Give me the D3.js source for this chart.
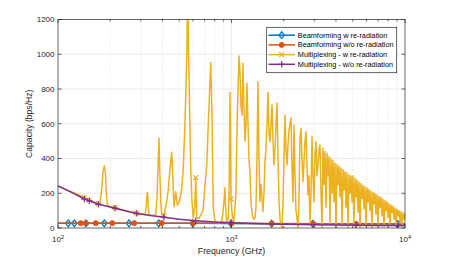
<!DOCTYPE html>
<html><head><meta charset="utf-8">
<script src="https://cdn.jsdelivr.net/npm/d3@7"></script>
<style>
html,body{margin:0;padding:0;background:#fff;}
svg{display:block;font-family:"Liberation Sans",Arial,Helvetica,sans-serif;}
</style></head>
<body>
<svg id="chart" width="449" height="257"></svg>
<script>
// ---------------- data ----------------
const seriesNames = ["Beamforming w re-radiation","Beamforming w/o re-radiation","Multiplexing - w re-radiation","Multiplexing - w/o re-radiation"];
const seriesColors = ["#0072BD","#D95319","#EDB120","#7E2F8E"];
const freqTicks = [100, 1000, 10000];
const freqTickExp = ["2","3","4"];
const capTicks = [0,200,400,600,800,1000,1200];

// Beamforming w re-radiation (GHz, bps/Hz)
const beamWithFreq = [100,114.6,124.2,145,184.9,256.7,381,597.5,993,1705,2938,9078,10000];
const beamWithCap  = [27,27,27,27,27,27,27,27,26,25,24,23,23];
// Beamforming w/o re-radiation
const beamWithoutFreq = [100,135.2,145,165,205.6,275,396,602,1003,1705,2962,5220,10000];
const beamWithoutCap  = [28,28,28,28,28,28,28,28,27,26,25,24,24];
// Multiplexing w/o re-radiation
const multiWithoutFreq = [100,120,141.8,151.5,170.8,200,213,250,284,350,408,500,622,800,993,1500,2000,3000,5220,7000,9114,10000];
const multiWithoutCap  = [242,205,167,156,137,121,114,96,84,70,62,51,42,34,30,25,22,19,16,15,14,14];
// Multiplexing w re-radiation  [GHz, bps/Hz]
const multiWith = [
 [100,242],[115,214],[130,193],[141.8,175],[151.5,160],[165,146],[170.8,140],[174.6,142],[179.3,240],[182,330],[185,357],[187.5,320],[189.1,240],[192,140],[196,124],[213,117],[240,103],[260,94],[284,85],[305,80],[318,77],[322,120],[325,185],[327,203],[329,190],[332,110],[335,74],[350,72],[366,78],[372,170],[377,350],[382,516],[386,330],[391,150],[396,75],[408,72],
 [423,151],[432,220],[442,340],[452,436],[458,320],[466,122],[477,209],[487,132],[500,151],[516,220],[527,340],[539,600],[547,820],[554,1060],[559,1450],[566,990],[574,680],[582,340],[592,151],[602,57],[614,120],[622,290],[630,60],[650,55],[685,100],[720,363],[745,748],[759,953],[772,650],[785,115],[803,40],[840,30],[880,35],[905,150],[917,232],[925,120],[938,28],[960,60],[971,300],[980,781],[987,500],[993,167],[1005,100],[1016,60],[1034,40],[1060,200],[1080,650],[1105,990],
 [1119,900],[1134,700],[1150,650],[1165,948],[1180,700],[1196,500],[1212,600],[1228,833],[1245,600],[1261,400],[1278,324],[1295,150],[1312,90],[1330,57],[1348,50],[1366,60],[1384,120],[1402,400],[1421,842],[1440,400],[1459,151],[1479,250],[1498,180],[1518,94],[1539,200],[1559,380],[1580,450],[1602,600],[1623,781],[1645,550],[1667,497],[1689,600],[1712,708],[1735,500],[1758,363],[1781,450],[1805,600],[1829,719],[1854,400],[1879,150],[1904,50],[1929,20],[1955,0],[1981,150],[2007,400],[2034,650],[2061,450],[2089,363],[2117,480],[2145,560],[2174,600],[2203,633],[2232,350],[2262,151],[2292,593],[2323,300],[2354,100],[2385,57],[2417,0],[2449,150],[2482,520],[2515,574],[2549,400],[2583,267],[2617,380],[2652,500],[2688,554],[2724,350],[2760,190],[2797,300],[2834,30],[2872,200],[2911,526],[2950,300],[2989,151],[3029,420],[3069,497],[3110,300],[3152,363],[3194,450],[3236,478],[3280,200],[3324,0],
 [3368,460],[3413,250],[3459,440],[3505,120],[3552,430],[3599,300],[3647,410],[3696,20],[3745,400],[3795,200],[3846,390],[3897,150],[3950,372],[4002,0],[4056,365],[4110,250],[4165,355],[4220,180],[4277,345],[4334,10],[4392,335],[4451,220],[4510,324],[4570,120],[4631,318],[4693,0],[4756,305],[4819,200],[4884,300],[4949,150],[5015,300],[5082,20],[5150,286],[5219,180],[5289,275],[5359,90],[5431,265],[5504,0],[5577,255],[5651,170],[5727,245],[5803,110],[5881,238],[5959,10],[6039,230],[6120,150],[6201,222],[6284,100],[6368,212],[6453,0],[6539,205],[6627,140],[6715,198],[6805,80],[6896,190],[6988,15],[7081,182],[7176,120],[7272,175],[7369,70],[7468,165],[7568,10],[7669,158],[7771,100],[7875,150],[7980,60],[8087,140],[8195,15],[8304,133],[8415,90],[8527,125],[8641,50],[8757,115],[8874,10],[8992,108],[9113,70],[9234,100],[9358,30],[9483,94],[9609,10],[9738,88],[9868,50],[10000,82]
];
// marker positions (GHz)
const beamWithMarks = [114.6,124.2,145,184.9,256.7,381,597.5,993,1705,2938,9078];
const beamWithoutMarks = [135.2,145,165,205.6,275,396,602,1003,1705,2962,5220];
const multiWithMarks = [141.8,151.5,170.8,213,284,408,622,993];
const multiWithoutMarks = [141.8,151.5,170.8,213,284,408,622,993,5220,9114];

// ---------------- chart ----------------
const svg = d3.select("#chart");
const L = 58, R = 405, T = 19.5, B = 228;
const x = d3.scaleLog().domain([100, 10000]).range([L, R]);
const y = d3.scaleLinear().domain([0, 1200]).range([B, T]);
const axisCol = "#262626";

// grid
const grid = svg.append("g");
const minorVals = [];
[100, 1000].forEach(dec => { for (let k = 2; k <= 9; k++) minorVals.push(dec * k); });
grid.selectAll("line.mx").data(minorVals).join("line")
  .attr("x1", d => x(d)).attr("x2", d => x(d)).attr("y1", T).attr("y2", B)
  .attr("stroke", "#c8c8c8").attr("stroke-width", 0.6).attr("stroke-dasharray", "1,2");
grid.selectAll("line.Mx").data(freqTicks.slice(1, -1)).join("line")
  .attr("x1", d => x(d)).attr("x2", d => x(d)).attr("y1", T).attr("y2", B)
  .attr("stroke", "#dedede").attr("stroke-width", 0.6);
grid.selectAll("line.gy").data(capTicks.slice(1, -1)).join("line")
  .attr("x1", L).attr("x2", R).attr("y1", d => y(d)).attr("y2", d => y(d))
  .attr("stroke", "#dedede").attr("stroke-width", 0.6);

// clip
svg.append("clipPath").attr("id", "clip").append("rect")
  .attr("x", L).attr("y", T).attr("width", R - L).attr("height", B - T);

const line = d3.line().x(d => x(d[0])).y(d => y(d[1]));
const plot = svg.append("g").attr("clip-path", "url(#clip)");
const zip = (a, b) => a.map((v, i) => [v, b[i]]);
const lookup = (pairs, f) => pairs.find(p => p[0] === f);

function markerPath(type, s) {
  if (type === "diamond") return `M0,${-s}L${s*0.8},0L0,${s}L${-s*0.8},0Z`;
  if (type === "plus") return `M${-s},0H${s}M0,${-s}V${s}`;
  if (type === "cross") return `M${-s},${-s}L${s},${s}M${-s},${s}L${s},${-s}`;
  return "";
}
function drawMarker(g, type, color, cx, cy) {
  if (type === "circle") {
    g.append("circle").attr("cx", cx).attr("cy", cy).attr("r", 2.6).attr("fill", color).attr("stroke", color).attr("stroke-width", 0.6);
  } else {
    const s = type === "diamond" ? 3.4 : (type === "plus" ? 3.2 : 2.5);
    g.append("path").attr("transform", `translate(${cx},${cy})`).attr("d", markerPath(type, s))
      .attr("fill", "none").attr("stroke", color).attr("stroke-width", 1.2);
  }
}

const series = [
  {pts: zip(beamWithFreq, beamWithCap), marks: beamWithMarks, type: "diamond"},
  {pts: zip(beamWithoutFreq, beamWithoutCap), marks: beamWithoutMarks, type: "circle"},
  {pts: multiWith, marks: multiWithMarks, type: "cross"},
  {pts: zip(multiWithoutFreq, multiWithoutCap), marks: multiWithoutMarks, type: "plus"}
];
series.forEach((s, i) => {
  const g = plot.append("g");
  g.append("path").datum(s.pts).attr("d", line).attr("fill", "none")
    .attr("stroke", seriesColors[i]).attr("stroke-width", 1.5).attr("stroke-linejoin", "round");
  s.marks.forEach(f => {
    const p = lookup(s.pts, f);
    if (p) drawMarker(g, s.type, seriesColors[i], x(p[0]), y(p[1]));
  });
});

// axes box + ticks
const ax = svg.append("g").attr("stroke", axisCol).attr("stroke-width", 0.7).attr("fill", "none");
ax.append("rect").attr("x", L).attr("y", T).attr("width", R - L).attr("height", B - T);
capTicks.forEach(v => {
  ax.append("line").attr("x1", L).attr("x2", L + 3.5).attr("y1", y(v)).attr("y2", y(v));
  ax.append("line").attr("x1", R).attr("x2", R - 3.5).attr("y1", y(v)).attr("y2", y(v));
});
freqTicks.forEach(v => {
  ax.append("line").attr("x1", x(v)).attr("x2", x(v)).attr("y1", B).attr("y2", B - 3.5);
  ax.append("line").attr("x1", x(v)).attr("x2", x(v)).attr("y1", T).attr("y2", T + 3.5);
});
minorVals.forEach(v => {
  ax.append("line").attr("x1", x(v)).attr("x2", x(v)).attr("y1", B).attr("y2", B - 2);
  ax.append("line").attr("x1", x(v)).attr("x2", x(v)).attr("y1", T).attr("y2", T + 2);
});

// tick labels
const tl = svg.append("g").attr("fill", axisCol).attr("font-size", 8);
capTicks.forEach(v => {
  tl.append("text").attr("x", 54.5).attr("y", y(v)).attr("dy", "0.35em").attr("text-anchor", "end").text(v);
});
freqTicks.forEach((v, i) => {
  const t = tl.append("text").attr("x", x(v)).attr("y", 242.3).attr("text-anchor", "middle");
  t.append("tspan").text("10");
  t.append("tspan").attr("font-size", 5.6).attr("dy", -3.8).text(freqTickExp[i]);
});

// axis titles
svg.append("text").attr("x", (L + R) / 2).attr("y", 253.5).attr("text-anchor", "middle")
  .attr("font-size", 8.8).attr("fill", axisCol).text("Frequency (GHz)");
svg.append("text").attr("transform", `translate(32,${(T + B) / 2}) rotate(-90)`).attr("text-anchor", "middle")
  .attr("font-size", 8.6).attr("fill", axisCol).text("Capacity (bps/Hz)");

// legend
const lg = svg.append("g");
lg.append("rect").attr("x", 266.7).attr("y", 27.3).attr("width", 130).attr("height", 45.4)
  .attr("fill", "#fff").attr("stroke", axisCol).attr("stroke-width", 0.7);
const types = ["diamond", "circle", "cross", "plus"];
seriesNames.forEach((nm, i) => {
  const yy = 35.2 + i * 9.7;
  lg.append("line").attr("x1", 268.5).attr("x2", 295).attr("y1", yy).attr("y2", yy)
    .attr("stroke", seriesColors[i]).attr("stroke-width", 1.5);
  drawMarker(lg, types[i], seriesColors[i], 281.7, yy);
  lg.append("text").attr("x", 297.8).attr("y", yy).attr("dy", "0.35em").attr("font-size", 7.3)
    .attr("fill", "#000").text(nm);
});
</script>
</body></html>
